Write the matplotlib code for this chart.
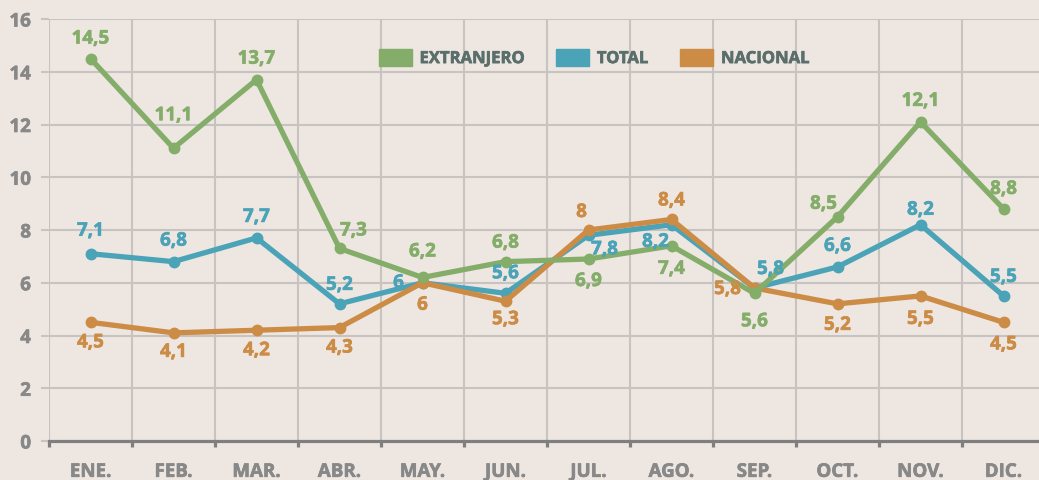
import matplotlib.pyplot as plt
import matplotlib.patheffects as pe
from matplotlib.patches import Patch
from matplotlib.ticker import MultipleLocator
import numpy as np

plt.rcParams['font.family'] = ['Open Sans', 'DejaVu Sans']
plt.rcParams['font.weight'] = 'bold'

meses = ["ENE.", "FEB.", "MAR.", "ABR.", "MAY.", "JUN.",
         "JUL.", "AGO.", "SEP.", "OCT.", "NOV.", "DIC."]
extranjero = [14.5, 11.1, 13.7, 7.3, 6.2, 6.8, 6.9, 7.4, 5.6, 8.5, 12.1, 8.8]
total = [7.1, 6.8, 7.7, 5.2, 6, 5.6, 7.8, 8.2, 5.8, 6.6, 8.2, 5.5]
nacional = [4.5, 4.1, 4.2, 4.3, 6, 5.3, 8, 8.4, 5.8, 5.2, 5.5, 4.5]

# label offsets in pixels (dx, dy), picked by hand to match the layout
off_ext = [(0, 20), (0, 33), (0, 21), (14, 18), (0, 26), (0, 19),
           (0, -22), (0, -23), (0, -28), (-14, 13), (0, 21), (0, 20)]
off_tot = [(0, 23), (0, 21), (0, 21), (0, 19), (-24, 0), (0, 20),
           (16, -14), (-16, -17), (16, 19), (0, 21), (0, 15), (0, 19)]
off_nac = [(0, -20), (0, -19), (0, -20), (0, -20), (0, -22), (0, -18),
           (-7, 18), (0, 19), (-27, -1), (0, -21), (0, -23), (0, -22)]

c_ext = "#84ad6a"
c_tot = "#4ba3b7"
c_nac = "#cc8c46"
bg = "#ede6e1"
grid_c = "#c6c3c0"
tick_c = "#888888"


def thick(col):
    # slightly heavier strokes, the original font is a heavy semibold
    return [pe.withStroke(linewidth=0.45, foreground=col)]


W, H = 1039, 481
fig = plt.figure(figsize=(W/100, H/100), dpi=100, facecolor=bg)
ax = fig.add_axes([49/W, 39/H, 996/W, 422/H])
ax.set_facecolor(bg)

x = np.arange(len(meses))
series = [(total, c_tot, off_tot, 3), (nacional, c_nac, off_nac, 4),
          (extranjero, c_ext, off_ext, 5)]
for vals, col, offs, z in series:
    ax.plot(x, vals, color=col, lw=3.8, marker="o", ms=7.5, zorder=z,
            solid_joinstyle="round", clip_on=False)
    for xi, v, (dx, dy) in zip(x, vals, offs):
        txt = f"{v:g}".replace(".", ",")
        ax.annotate(txt, (xi, v), xytext=(dx, dy), textcoords="offset pixels",
                    ha="center", va="center", color=col, fontsize=13.5,
                    fontweight="bold", zorder=6, path_effects=thick(col))

ax.set_xlim(-0.5, 11.5)
ax.set_ylim(0, 16)
ax.yaxis.set_major_locator(MultipleLocator(2))
ax.set_xticks(x)
ax.set_xticklabels(meses)
ax.set_xticks(np.arange(-0.5, 12, 1), minor=True)

ax.grid(axis="y", color=grid_c, lw=1.5)
ax.grid(axis="x", which="minor", color=grid_c, lw=1.5)
ax.set_axisbelow(True)

for s in ["top", "right", "left"]:
    ax.spines[s].set_visible(False)
ax.spines["bottom"].set_color("#7f7f7f")
ax.spines["bottom"].set_linewidth(2.3)
ax.spines["bottom"].set_zorder(7)

ax.tick_params(axis="x", which="major", length=0, pad=15,
               labelsize=13.5, labelcolor=tick_c)
ax.tick_params(axis="x", which="minor", length=4, width=2.3,
               color="#7f7f7f", direction="out")
ax.tick_params(axis="y", length=6, width=1.5, color=grid_c, pad=7,
               labelsize=13.5, labelcolor=tick_c)
for lab in ax.get_xticklabels() + ax.get_yticklabels():
    lab.set_path_effects(thick(tick_c))

handles = [Patch(color=c_ext, label="EXTRANJERO"),
           Patch(color=c_tot, label="TOTAL"),
           Patch(color=c_nac, label="NACIONAL")]
leg = fig.legend(handles=handles, loc="center", bbox_to_anchor=(594/W, 1 - 59/H),
                 ncol=3, frameon=False, handlelength=2.0, handleheight=1.2,
                 handletextpad=0.45, columnspacing=1.9, borderpad=0,
                 prop={"size": 12, "weight": "bold"})
for t in leg.get_texts():
    t.set_color("#5a6e6c")
    t.set_path_effects(thick("#5a6e6c"))

plt.savefig("out.png", dpi=100, facecolor=bg)
